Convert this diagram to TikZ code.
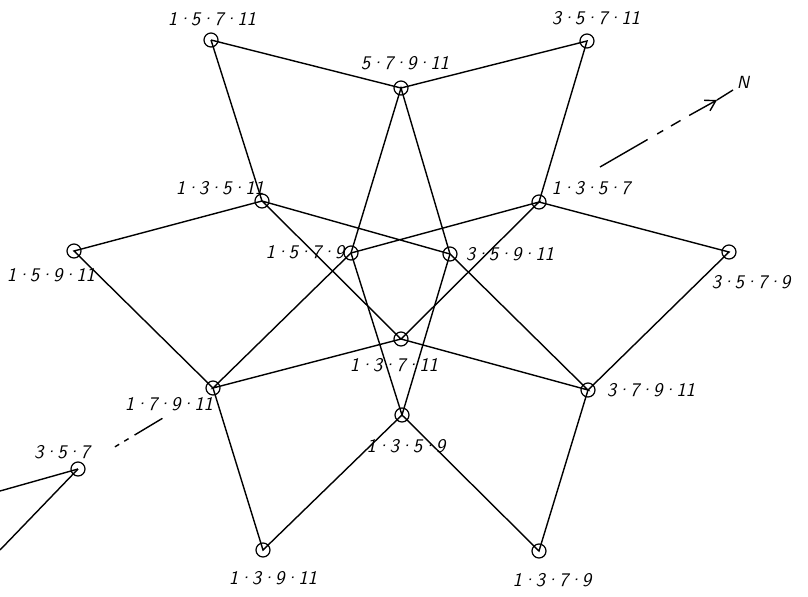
\documentclass[tikz,border=0pt]{standalone}
\usetikzlibrary{arrows.meta,positioning}
\newcommand{\lsep}{\kern-0.3pt\textperiodcentered\kern-0.3pt}

\begin{document}
\begin{tikzpicture}[x=0.02cm,y=-0.02cm,
  vtx/.style={draw,circle,inner sep=0pt,minimum size=0.28cm,line width=0.7pt},
  link/.style={line width=0.8pt},
  lab/.style={font=\sffamily\itshape\fontsize{11}{13}\selectfont,inner sep=1pt}]
\useasboundingbox (0,0) rectangle (808,596);

% Vertices
\node[vtx] (v15711) at (211,40) {};
\node[vtx] (v57911) at (401,88) {};
\node[vtx] (v35711) at (587,41) {};
\node[vtx] (v13511) at (262,201) {};
\node[vtx] (v1357) at (539,202) {};
\node[vtx] (v15911) at (74,251) {};
\node[vtx] (v1579) at (351,253) {};
\node[vtx] (v35911) at (450,254) {};
\node[vtx] (v3579) at (729,252) {};
\node[vtx] (v13711) at (401,339) {};
\node[vtx] (v17911) at (213,388) {};
\node[vtx] (v37911) at (588,390) {};
\node[vtx] (v1359) at (402,415) {};
\node[vtx] (v357) at (78,469) {};
\node[vtx] (v13911) at (263,550) {};
\node[vtx] (v1379) at (539,551) {};

% Labels
\node[lab] (t15711) at (212,19) {1\lsep5\lsep7\lsep11};
\node[lab] (t57911) at (405,63) {5\lsep7\lsep9\lsep11};
\node[lab] (t35711) at (596,18) {3\lsep5\lsep7\lsep11};
\node[lab] (t13511) at (220,188) {1\lsep3\lsep5\lsep11};
\node[lab] (t1357) at (591,188) {1\lsep3\lsep5\lsep7};
\node[lab] (t15911) at (51,275) {1\lsep5\lsep9\lsep11};
\node[lab] (t1579) at (305,252) {1\lsep5\lsep7\lsep9};
\node[lab] (t35911) at (510,254) {3\lsep5\lsep9\lsep11};
\node[lab] (t3579) at (751,282) {3\lsep5\lsep7\lsep9};
\node[lab] (t13711) at (394,365) {1\lsep3\lsep7\lsep11};
\node[lab] (t17911) at (169,404) {1\lsep7\lsep9\lsep11};
\node[lab] (t37911) at (651,390) {3\lsep7\lsep9\lsep11};
\node[lab] (t1359) at (406,446) {1\lsep3\lsep5\lsep9};
\node[lab] (t357) at (62,452) {3\lsep5\lsep7};
\node[lab] (t13911) at (273,578) {1\lsep3\lsep9\lsep11};
\node[lab] (t1379) at (552,580) {1\lsep3\lsep7\lsep9};

% Outer ring
\draw[link] (v15711.center) -- (v57911.center) -- (v35711.center) -- (v1357.center)
  -- (v3579.center) -- (v37911.center) -- (v1379.center) -- (v1359.center)
  -- (v13911.center) -- (v17911.center) -- (v15911.center) -- (v13511.center)
  -- (v15711.center);
% Inner star
\draw[link] (v13511.center) -- (v35911.center) -- (v37911.center) -- (v13711.center)
  -- (v17911.center) -- (v1579.center) -- (v1357.center) -- (v13711.center)
  -- (v13511.center);
\draw[link] (v1579.center) -- (v57911.center) -- (v35911.center) -- (v1359.center)
  -- (v1579.center);

% Loose vertex
\coordinate (off1) at (0,491);
\coordinate (off2) at (0,550);
\draw[link] (v357.center) -- (off1);
\draw[link] (v357.center) -- (off2);
\draw[link, shorten <=0.86cm, shorten >=1.18cm,
  dash pattern=on 0.1cm off 0.12cm on 0.1cm off 0.14cm on 0.7cm] (v357.center) -- (v17911.center);

% North arrow
\coordinate (nS) at (600,167);
\coordinate (nB) at (690,115);
\coordinate (nA) at (717,100);
\coordinate (nE) at (733,90);
\draw[link, dash pattern=on 1.1cm off 0.22cm on 0.14cm off 0.18cm on 0.22cm off 0.2cm] (nS) -- (nB);
\draw[link, -{Straight Barb[length=0.2cm,width=0.24cm]}] (nB) -- (nA);
\draw[link] (nA) -- (nE);
\node[font=\sffamily\itshape, inner sep=0pt] (north) at (743,82) {N};
\end{tikzpicture}
\end{document}
